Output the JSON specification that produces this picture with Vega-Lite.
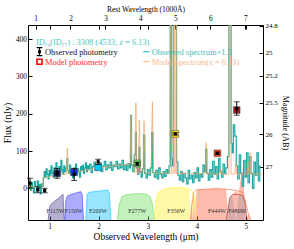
{
"$schema": "https://vega.github.io/schema/vega-lite/v6.json",
"width": 235, "height": 195,
"autosize": {"type": "none"},
"padding": {"left": 28, "top": 25, "right": 31, "bottom": 29},
"background": "white",
"config": {
 "view": {"stroke": "black", "strokeWidth": 1},
 "axis": {"grid": false, "domain": false, "tickColor": "black", "tickSize": -4, "labelPadding": 6, "labelFont": "Liberation Serif", "titleFont": "Liberation Serif", "labelFontSize": 7.3, "titleFontWeight": "normal", "labelColor": "black", "titleColor": "black", "labelFlush": false, "labelOverlap": false, "labelBound": false},
 "text": {"font": "Liberation Serif"}
},
"datasets": {
 "filters": [
  {"filter":"F115W","w":0.97,"t":0},{"filter":"F115W","w":1.005,"t":0.22},{"filter":"F115W","w":1.03,"t":0.25},{"filter":"F115W","w":1.07,"t":0.28},{"filter":"F115W","w":1.12,"t":0.31},{"filter":"F115W","w":1.17,"t":0.34},{"filter":"F115W","w":1.22,"t":0.37},{"filter":"F115W","w":1.26,"t":0.40},{"filter":"F115W","w":1.275,"t":0.41},{"filter":"F115W","w":1.285,"t":0.2},{"filter":"F115W","w":1.30,"t":0},
  {"filter":"F150W","w":1.31,"t":0},{"filter":"F150W","w":1.33,"t":0.30},{"filter":"F150W","w":1.36,"t":0.38},{"filter":"F150W","w":1.42,"t":0.40},{"filter":"F150W","w":1.5,"t":0.42},{"filter":"F150W","w":1.58,"t":0.44},{"filter":"F150W","w":1.64,"t":0.45},{"filter":"F150W","w":1.665,"t":0.40},{"filter":"F150W","w":1.69,"t":0},
  {"filter":"F200W","w":1.74,"t":0},{"filter":"F200W","w":1.765,"t":0.40},{"filter":"F200W","w":1.80,"t":0.44},{"filter":"F200W","w":1.9,"t":0.45},{"filter":"F200W","w":2.0,"t":0.46},{"filter":"F200W","w":2.1,"t":0.47},{"filter":"F200W","w":2.19,"t":0.475},{"filter":"F200W","w":2.22,"t":0.42},{"filter":"F200W","w":2.25,"t":0},
  {"filter":"F277W","w":2.38,"t":0},{"filter":"F277W","w":2.42,"t":0.25},{"filter":"F277W","w":2.47,"t":0.37},{"filter":"F277W","w":2.55,"t":0.40},{"filter":"F277W","w":2.7,"t":0.415},{"filter":"F277W","w":2.85,"t":0.42},{"filter":"F277W","w":2.98,"t":0.41},{"filter":"F277W","w":3.05,"t":0.37},{"filter":"F277W","w":3.1,"t":0.25},{"filter":"F277W","w":3.14,"t":0},
  {"filter":"F356W","w":3.13,"t":0},{"filter":"F356W","w":3.17,"t":0.33},{"filter":"F356W","w":3.22,"t":0.44},{"filter":"F356W","w":3.3,"t":0.48},{"filter":"F356W","w":3.45,"t":0.51},{"filter":"F356W","w":3.6,"t":0.52},{"filter":"F356W","w":3.75,"t":0.51},{"filter":"F356W","w":3.85,"t":0.49},{"filter":"F356W","w":3.92,"t":0.45},{"filter":"F356W","w":3.96,"t":0.3},{"filter":"F356W","w":4.0,"t":0},
  {"filter":"F444W","w":3.87,"t":0},{"filter":"F444W","w":3.90,"t":0.25},{"filter":"F444W","w":3.94,"t":0.44},{"filter":"F444W","w":4.0,"t":0.48},{"filter":"F444W","w":4.2,"t":0.49},{"filter":"F444W","w":4.4,"t":0.50},{"filter":"F444W","w":4.6,"t":0.49},{"filter":"F444W","w":4.8,"t":0.47},{"filter":"F444W","w":4.93,"t":0.44},{"filter":"F444W","w":4.99,"t":0.3},{"filter":"F444W","w":5.05,"t":0.1},{"filter":"F444W","w":5.1,"t":0},
  {"filter":"F480M","w":4.60,"t":0},{"filter":"F480M","w":4.63,"t":0.15},{"filter":"F480M","w":4.67,"t":0.35},{"filter":"F480M","w":4.72,"t":0.40},{"filter":"F480M","w":4.85,"t":0.41},{"filter":"F480M","w":4.93,"t":0.39},{"filter":"F480M","w":4.98,"t":0.3},{"filter":"F480M","w":5.01,"t":0.1},{"filter":"F480M","w":5.03,"t":0}
 ],
 "filterLabels": [
  {"filter":"F115W","pivot":1.12},{"filter":"F150W","pivot":1.49},{"filter":"F200W","pivot":1.99},{"filter":"F277W","pivot":2.786},{"filter":"F356W","pivot":3.58},{"filter":"F444W","pivot":4.41},{"filter":"F480M","pivot":4.82}
 ],
 "phot": [
  {"filter":"F606W","w":0.60,"obs":14,"err":13,"model":null},
  {"filter":"F775W","w":0.76,"obs":-4,"err":8,"model":null},
  {"filter":"F850LP","w":0.90,"obs":-6,"err":6,"model":null},
  {"filter":"F115W","w":1.154,"obs":40,"err":13,"model":40},
  {"filter":"F150W","w":1.501,"obs":37,"err":16,"model":43},
  {"filter":"F200W","w":1.990,"obs":71,"err":7,"model":56},
  {"filter":"F277W","w":2.786,"obs":66,"err":4,"model":67},
  {"filter":"F356W","w":3.563,"obs":146,"err":3,"model":146},
  {"filter":"F444W","w":4.421,"obs":94,"err":3,"model":94},
  {"filter":"F480M","w":4.814,"obs":214,"err":18,"model":210}
 ],
 "modSpec": [
  {"w":0.56,"f":3},{"w":0.70,"f":4},{"w":0.80,"f":5},{"w":0.86,"f":6},{"w":0.875,"f":28},{"w":0.95,"f":30},{"w":1.05,"f":33},{"w":1.15,"f":35},{"w":1.25,"f":37},{"w":1.345,"f":38},{"w":1.361,"f":108},{"w":1.377,"f":39},{"w":1.5,"f":43},{"w":1.7,"f":48},{"w":1.9,"f":52},{"w":2.1,"f":56},{"w":2.3,"f":60},{"w":2.5,"f":63},{"w":2.64,"f":65},{"w":2.658,"f":196},{"w":2.676,"f":66},{"w":2.70,"f":60},{"w":2.72,"f":42},{"w":2.74,"f":42},{"w":2.759,"f":229},{"w":2.778,"f":42},{"w":2.81,"f":41},{"w":2.829,"f":183},{"w":2.848,"f":41},{"w":2.905,"f":41},{"w":2.926,"f":181},{"w":2.947,"f":41},{"w":3.07,"f":41},{"w":3.095,"f":232},{"w":3.12,"f":41},{"w":3.45,"f":40},{"w":3.467,"f":700},{"w":3.485,"f":40},{"w":3.52,"f":40},{"w":3.537,"f":1400},{"w":3.555,"f":40},{"w":3.571,"f":3000},{"w":3.59,"f":40},{"w":4.0,"f":39},{"w":4.17,"f":39},{"w":4.19,"f":122},{"w":4.21,"f":39},{"w":4.47,"f":38},{"w":4.49,"f":52},{"w":4.51,"f":38},{"w":4.655,"f":38},{"w":4.679,"f":2000},{"w":4.70,"f":38},{"w":4.775,"f":38},{"w":4.796,"f":65},{"w":4.815,"f":38},{"w":5.02,"f":38},{"w":5.04,"f":70},{"w":5.06,"f":38},{"w":5.07,"f":38},{"w":5.088,"f":95},{"w":5.106,"f":38},{"w":5.35,"f":38}
 ],
 "obsSpec": [
  {"w":0.60,"f":8},{"w":0.62,"f":-5},{"w":0.64,"f":15},{"w":0.66,"f":2},{"w":0.68,"f":-12},{"w":0.70,"f":18},{"w":0.72,"f":5},{"w":0.74,"f":-8},{"w":0.76,"f":20},{"w":0.78,"f":0},{"w":0.80,"f":10},{"w":0.82,"f":-15},{"w":0.84,"f":12},{"w":0.86,"f":5},{"w":0.88,"f":28},{"w":0.90,"f":45},{"w":0.92,"f":30},{"w":0.94,"f":52},{"w":0.96,"f":38},{"w":0.98,"f":25},{"w":1.00,"f":48},{"w":1.02,"f":35},{"w":1.04,"f":60},{"w":1.06,"f":42},{"w":1.08,"f":30},{"w":1.10,"f":55},{"w":1.12,"f":40},{"w":1.14,"f":68},{"w":1.16,"f":45},{"w":1.18,"f":33},{"w":1.20,"f":58},{"w":1.22,"f":42},{"w":1.24,"f":75},{"w":1.26,"f":50},{"w":1.28,"f":38},{"w":1.30,"f":60},{"w":1.32,"f":45},{"w":1.34,"f":55},{"w":1.36,"f":80},{"w":1.38,"f":48},{"w":1.40,"f":40},{"w":1.42,"f":62},{"w":1.44,"f":35},{"w":1.46,"f":50},{"w":1.48,"f":28},{"w":1.50,"f":55},{"w":1.52,"f":42},{"w":1.54,"f":65},{"w":1.56,"f":38},{"w":1.58,"f":52},{"w":1.60,"f":45},{"w":1.62,"f":30},{"w":1.64,"f":58},{"w":1.66,"f":48},{"w":1.68,"f":62},{"w":1.70,"f":40},{"w":1.72,"f":55},{"w":1.74,"f":68},{"w":1.76,"f":45},{"w":1.78,"f":60},{"w":1.80,"f":50},{"w":1.83,"f":65},{"w":1.86,"f":42},{"w":1.89,"f":58},{"w":1.92,"f":70},{"w":1.95,"f":48},{"w":1.98,"f":62},{"w":2.01,"f":55},{"w":2.04,"f":68},{"w":2.07,"f":45},{"w":2.10,"f":60},{"w":2.13,"f":72},{"w":2.16,"f":50},{"w":2.19,"f":63},{"w":2.22,"f":55},{"w":2.25,"f":70},{"w":2.28,"f":48},{"w":2.31,"f":62},{"w":2.34,"f":58},{"w":2.37,"f":72},{"w":2.40,"f":52},{"w":2.43,"f":65},{"w":2.46,"f":55},{"w":2.49,"f":75},{"w":2.52,"f":50},{"w":2.55,"f":62},{"w":2.58,"f":48},{"w":2.61,"f":66},{"w":2.64,"f":55},{"w":2.66,"f":196},{"w":2.68,"f":62},{"w":2.71,"f":45},{"w":2.74,"f":90},{"w":2.76,"f":150},{"w":2.78,"f":55},{"w":2.81,"f":38},{"w":2.83,"f":110},{"w":2.85,"f":45},{"w":2.88,"f":30},{"w":2.90,"f":52},{"w":2.93,"f":143},{"w":2.95,"f":40},{"w":2.98,"f":28},{"w":3.01,"f":50},{"w":3.04,"f":35},{"w":3.07,"f":55},{"w":3.09,"f":150},{"w":3.12,"f":42},{"w":3.15,"f":30},{"w":3.18,"f":48},{"w":3.21,"f":25},{"w":3.24,"f":55},{"w":3.27,"f":38},{"w":3.30,"f":28},{"w":3.33,"f":45},{"w":3.36,"f":32},{"w":3.39,"f":50},{"w":3.42,"f":40},{"w":3.45,"f":60},{"w":3.47,"f":800},{"w":3.49,"f":80},{"w":3.51,"f":60},{"w":3.53,"f":900},{"w":3.555,"f":1500},{"w":3.575,"f":2500},{"w":3.60,"f":70},{"w":3.63,"f":35},{"w":3.66,"f":22},{"w":3.69,"f":45},{"w":3.72,"f":18},{"w":3.75,"f":40},{"w":3.78,"f":28},{"w":3.81,"f":12},{"w":3.84,"f":48},{"w":3.87,"f":25},{"w":3.90,"f":35},{"w":3.93,"f":15},{"w":3.96,"f":42},{"w":3.99,"f":28},{"w":4.02,"f":55},{"w":4.05,"f":20},{"w":4.08,"f":38},{"w":4.11,"f":30},{"w":4.14,"f":62},{"w":4.17,"f":45},{"w":4.19,"f":105},{"w":4.22,"f":40},{"w":4.25,"f":22},{"w":4.28,"f":50},{"w":4.31,"f":30},{"w":4.34,"f":72},{"w":4.37,"f":38},{"w":4.40,"f":58},{"w":4.43,"f":25},{"w":4.46,"f":80},{"w":4.49,"f":45},{"w":4.52,"f":30},{"w":4.55,"f":65},{"w":4.58,"f":40},{"w":4.61,"f":55},{"w":4.64,"f":85},{"w":4.67,"f":700},{"w":4.69,"f":500},{"w":4.71,"f":120},{"w":4.73,"f":95},{"w":4.76,"f":170},{"w":4.79,"f":140},{"w":4.82,"f":60},{"w":4.85,"f":25},{"w":4.88,"f":90},{"w":4.91,"f":40},{"w":4.94,"f":5},{"w":4.97,"f":75},{"w":5.00,"f":30},{"w":5.03,"f":95},{"w":5.06,"f":15},{"w":5.09,"f":85},{"w":5.12,"f":40},{"w":5.15,"f":0},{"w":5.18,"f":70},{"w":5.21,"f":35},{"w":5.24,"f":95},{"w":5.27,"f":20},{"w":5.30,"f":60}
 ]
},
"layer": [
 {
  "data": {"name": "filters"},
  "encoding": {
   "x": {"field": "w", "type": "quantitative", "scale": {"domain": [0.56, 5.35], "nice": false, "zero": false}, "axis": null},
   "y": {"field": "t", "type": "quantitative", "scale": {"domain": [0, 3.1], "nice": false}, "axis": null},
   "color": {"field": "filter", "type": "nominal", "scale": {"domain": ["F115W","F150W","F200W","F277W","F356W","F444W","F480M"], "range": ["#483d8b","#3333ff","#00bfff","#66dd55","#ffee22","#ff5533","#a0302a"]}, "legend": null}
  },
  "layer": [
   {"mark": {"type": "area", "opacity": 0.4}},
   {"mark": {"type": "line", "strokeWidth": 0.8, "opacity": 0.7}}
  ]
 },
 {
  "layer": [
   {
    "data": {"name": "obsSpec"},
    "mark": {"type": "line", "interpolate": "step", "color": "#1fa8a2", "strokeWidth": 1.2, "clip": true},
    "encoding": {
     "x": {"field": "w", "type": "quantitative", "scale": {"domain": [0.56, 5.35], "nice": false, "zero": false}, "axis": {"orient": "bottom", "values": [1,2,3,4,5], "title": "Observed Wavelength (μm)", "titleFontSize": 9.5, "titlePadding": 2}},
     "y": {"field": "f", "type": "quantitative", "scale": {"domain": [-85, 438], "nice": false, "zero": false}, "axis": {"orient": "left", "values": [0,100,200,300,400], "title": "Flux (nJy)", "titleFontSize": 9.8, "titlePadding": 3, "labelPadding": 5.5}}
    }
   },
   {
    "data": {"name": "modSpec"},
    "mark": {"type": "line", "color": "#f4a460", "strokeWidth": 0.9, "opacity": 0.8, "clip": true},
    "encoding": {
     "x": {"field": "w", "type": "quantitative", "axis": {"orient": "top", "values": [0.713,1.426,2.139,2.852,3.565,4.278,4.991,1,2,3,4,5], "labelExpr": "abs(datum.value*10/7.13 - round(datum.value*10/7.13)) < 0.005 ? format(round(datum.value*10/7.13), 'd') : ''", "title": "Rest Wavelength (1000Å)", "titleFontSize": 7.5, "titlePadding": 1, "labelPadding": 7}},
     "y": {"field": "f", "type": "quantitative", "axis": {"orient": "right", "values": [436.52,363.08,301.99,229.09,144.54,57.54], "labelExpr": "format(31.4 - 2.5*log(datum.value)/LN10, '.1~f')", "title": "Magnitude (AB)", "titleFontSize": 8.2, "titlePadding": 3, "labelFontSize": 7}}
    }
   },
   {
    "data": {"name": "phot"},
    "transform": [{"filter": "isValid(datum.model)"}],
    "mark": {"type": "point", "shape": "square", "filled": true, "size": 45, "opacity": 1, "strokeWidth": 0.6, "stroke": "#555"},
    "encoding": {
     "x": {"field": "w", "type": "quantitative", "axis": null},
     "y": {"field": "model", "type": "quantitative", "axis": null},
     "color": {"field": "filter", "type": "nominal", "scale": {"domain": ["F115W","F150W","F200W","F277W","F356W","F444W","F480M"], "range": ["#1a1a70","#1030e0","#00c8ff","#66dd55","#ffe600","#ff4010","#a01818"]}, "legend": null}
    }
   },
   {
    "data": {"name": "phot"},
    "mark": {"type": "errorbar", "ticks": {"size": 6}, "color": "black", "thickness": 1},
    "encoding": {
     "x": {"field": "w", "type": "quantitative", "axis": null},
     "y": {"field": "obs", "type": "quantitative", "axis": null},
     "yError": {"field": "err"}
    }
   },
   {
    "data": {"name": "phot"},
    "mark": {"type": "point", "shape": "square", "filled": true, "size": 10, "color": "black", "opacity": 1},
    "encoding": {
     "x": {"field": "w", "type": "quantitative", "axis": null},
     "y": {"field": "obs", "type": "quantitative", "axis": null}
    }
   },
   {
    "data": {"name": "filterLabels"},
    "mark": {"type": "text", "fontSize": 6, "color": "#333", "baseline": "middle", "align": "center"},
    "encoding": {
     "x": {"field": "pivot", "type": "quantitative", "axis": null},
     "y": {"datum": -61, "type": "quantitative", "axis": null},
     "text": {"field": "filter"}
    }
   },
   {
    "data": {"values": [{}]},
    "mark": {"type": "text", "text": "IDᵥ₄(IDᵥ₇) : 3308 (4533; z = 6.13)", "fontSize": 8.4, "color": "#4ec5bd", "align": "left", "baseline": "middle"},
    "encoding": {"x": {"datum": 0.723, "type": "quantitative", "axis": null}, "y": {"datum": 393.5, "type": "quantitative", "axis": null}}
   },
   {
    "data": {"values": [{}]},
    "mark": {"type": "text", "text": "Observed photometry", "fontSize": 8.4, "color": "#111", "align": "left", "baseline": "middle"},
    "encoding": {"x": {"datum": 0.9065, "type": "quantitative", "axis": null}, "y": {"datum": 366.4, "type": "quantitative", "axis": null}}
   },
   {
    "data": {"values": [{}]},
    "mark": {"type": "text", "text": "Model photometry", "fontSize": 8.4, "color": "#ff2a2a", "align": "left", "baseline": "middle"},
    "encoding": {"x": {"datum": 0.9065, "type": "quantitative", "axis": null}, "y": {"datum": 339.6, "type": "quantitative", "axis": null}}
   },
   {
    "data": {"values": [{}]},
    "mark": {"type": "text", "text": "Observed spectrum×1.5", "fontSize": 8.4, "color": "#3cc0b4", "align": "left", "baseline": "middle"},
    "encoding": {"x": {"datum": 3.081, "type": "quantitative", "axis": null}, "y": {"datum": 366.4, "type": "quantitative", "axis": null}}
   },
   {
    "data": {"values": [{}]},
    "mark": {"type": "text", "text": "Model spectrum(z = 6.13)", "fontSize": 8.4, "color": "#f8b88a", "align": "left", "baseline": "middle"},
    "encoding": {"x": {"datum": 3.081, "type": "quantitative", "axis": null}, "y": {"datum": 339.6, "type": "quantitative", "axis": null}}
   },
   {
    "data": {"values": [{}]},
    "mark": {"type": "rule", "color": "#20b2aa", "strokeWidth": 1.1},
    "encoding": {"x": {"datum": 2.91, "type": "quantitative", "axis": null}, "x2": {"datum": 3.032}, "y": {"datum": 366.4, "type": "quantitative", "axis": null}}
   },
   {
    "data": {"values": [{}]},
    "mark": {"type": "rule", "color": "#f4a460", "strokeWidth": 1.1, "opacity": 0.8},
    "encoding": {"x": {"datum": 2.91, "type": "quantitative", "axis": null}, "x2": {"datum": 3.032}, "y": {"datum": 339.6, "type": "quantitative", "axis": null}}
   },
   {
    "data": {"values": [{}]},
    "mark": {"type": "point", "shape": "M-0.7,-1H0.7M0,-1V1M-0.7,1H0.7", "filled": false, "size": 64, "color": "black", "strokeWidth": 1.2, "opacity": 1},
    "encoding": {"x": {"datum": 0.794, "type": "quantitative", "axis": null}, "y": {"datum": 366.4, "type": "quantitative", "axis": null}}
   },
   {
    "data": {"values": [{}]},
    "mark": {"type": "point", "shape": "square", "filled": true, "size": 9, "color": "black", "opacity": 1},
    "encoding": {"x": {"datum": 0.794, "type": "quantitative", "axis": null}, "y": {"datum": 366.4, "type": "quantitative", "axis": null}}
   },
   {
    "data": {"values": [{}]},
    "mark": {"type": "point", "shape": "square", "filled": false, "size": 25, "color": "#ff0000", "strokeWidth": 1.6, "opacity": 1},
    "encoding": {"x": {"datum": 0.794, "type": "quantitative", "axis": null}, "y": {"datum": 339.6, "type": "quantitative", "axis": null}}
   }
  ],
  "resolve": {"axis": {"x": "independent", "y": "independent"}}
 }
],
"resolve": {"scale": {"y": "independent", "color": "independent"}, "axis": {"x": "independent", "y": "independent"}}
}
